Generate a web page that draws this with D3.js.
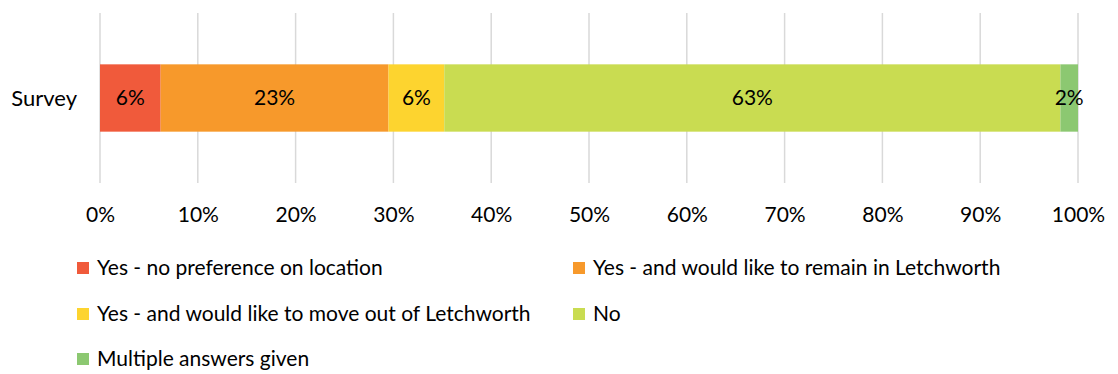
<!DOCTYPE html>
<html>
<head>
    <script src="https://cdn.jsdelivr.net/npm/d3@7"></script>
    <style>
        body { margin: 0; background: #fff; }
        text { font-family: Lato, "Open Sans", sans-serif; fill: #000; }
    </style>
</head>

<body>
<div id="chart"></div>

<script>

    var categories = ['Survey'];
    var seriesNames = [
        'Yes - no preference on location',
        'Yes - and would like to remain in Letchworth',
        'Yes - and would like to move out of Letchworth',
        'No',
        'Multiple answers given'
    ];
    var seriesValues = [0.062, 0.233, 0.057, 0.630, 0.018];
    var seriesColors = ['#f05a3b', '#f7992b', '#fdd42f', '#c9dc51', '#8cc871'];
    var tickValues = [0, 0.1, 0.2, 0.3, 0.4, 0.5, 0.6, 0.7, 0.8, 0.9, 1];

    var width = 1118;
    var height = 374;

    var svg = d3.select('#chart').append('svg')
        .attr('width', width)
        .attr('height', height);

    var xScale = d3.scaleLinear()
        .domain([0, 1])
        .range([100, 1078]);

    var yScale = d3.scaleBand()
        .domain(categories)
        .range([13, 183])
        .paddingInner(0.6)
        .paddingOuter(0.305);

    // gridlines
    svg.append('g')
        .selectAll('line')
        .data(tickValues)
        .enter()
        .append('line')
        .attr('x1', function(d) { return xScale(d); })
        .attr('x2', function(d) { return xScale(d); })
        .attr('y1', 13)
        .attr('y2', 183)
        .attr('stroke', '#d9d9d9')
        .attr('stroke-width', 1.5);

    // x axis labels
    var xAxis = d3.axisBottom(xScale)
        .tickValues(tickValues)
        .tickFormat(d3.format('.0%'))
        .tickSize(0)
        .tickPadding(0);

    var ax = svg.append('g')
        .attr('transform', 'translate(0, 207)')
        .call(xAxis);
    ax.select('.domain').remove();
    ax.selectAll('text')
        .attr('font-size', 21)
        .attr('font-family', 'Lato, sans-serif')
        .attr('fill', '#000');

    // stacked segments
    var stacked = [];
    var acc = 0;
    seriesValues.forEach(function(v, i) {
        stacked.push({ x0: acc, x1: acc + v, value: v, color: seriesColors[i] });
        acc += v;
    });

    var bar = svg.append('g');
    bar.selectAll('rect')
        .data(stacked)
        .enter()
        .append('rect')
        .attr('x', function(d) { return xScale(d.x0); })
        .attr('width', function(d) { return xScale(d.x1) - xScale(d.x0); })
        .attr('y', yScale('Survey'))
        .attr('height', yScale.bandwidth())
        .attr('fill', function(d) { return d.color; });

    bar.selectAll('text')
        .data(stacked)
        .enter()
        .append('text')
        .attr('x', function(d) { return (xScale(d.x0) + xScale(d.x1)) / 2; })
        .attr('y', yScale('Survey') + yScale.bandwidth() / 2)
        .attr('dy', '0.35em')
        .attr('text-anchor', 'middle')
        .attr('font-size', 21)
        .text(function(d) { return Math.round(d.value * 100) + '%'; });

    // category label
    svg.append('text')
        .attr('x', 77)
        .attr('y', yScale('Survey') + yScale.bandwidth() / 2)
        .attr('dy', '0.35em')
        .attr('text-anchor', 'end')
        .attr('font-size', 22)
        .text(categories[0]);

    // legend
    var legendPos = [
        { x: 77, y: 268 }, { x: 573, y: 268 },
        { x: 77, y: 314 }, { x: 573, y: 314 },
        { x: 77, y: 359 }
    ];
    var legend = svg.append('g')
        .selectAll('g')
        .data(seriesNames)
        .enter()
        .append('g')
        .attr('transform', function(d, i) {
            return 'translate(' + legendPos[i].x + ',' + legendPos[i].y + ')';
        });

    legend.append('rect')
        .attr('x', 0)
        .attr('y', -6)
        .attr('width', 12)
        .attr('height', 12)
        .attr('fill', function(d, i) { return seriesColors[i]; });

    legend.append('text')
        .attr('x', 20)
        .attr('dy', '0.35em')
        .attr('font-size', 21)
        .text(function(d) { return d; });

</script>
</body>
</html>
